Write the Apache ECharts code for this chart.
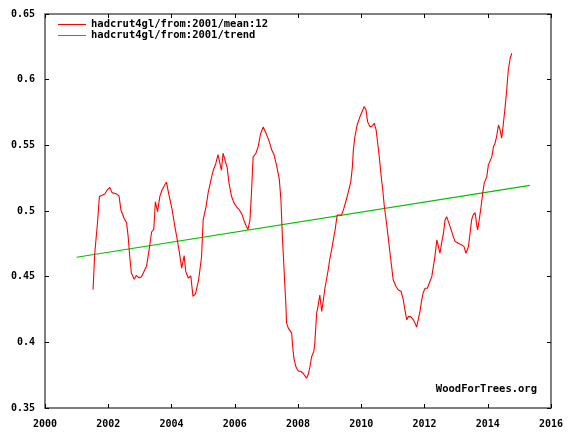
<!DOCTYPE html>
<html>
<head>
<meta charset="utf-8">
<script src="https://cdn.jsdelivr.net/npm/echarts@6/dist/echarts.min.js"></script>
<style>
html,body{margin:0;padding:0;background:#fff;}
#chart{width:573px;height:438px;}
</style>
</head>
<body>
<div id="chart"></div>
<script>
var meanName = 'hadcrut4gl/from:2001/mean:12';
var trendName = 'hadcrut4gl/from:2001/trend';
var credit = 'WoodForTrees.org';

var meanYears = [
2001.52,2001.57,2001.66,2001.72,2001.78,2001.89,2001.97,2002.05,2002.12,2002.26,2002.34,2002.40,2002.50,2002.58,2002.63,2002.68,2002.73,2002.82,2002.89,2002.97,
2003.05,2003.10,2003.21,2003.29,2003.37,2003.44,2003.49,2003.56,2003.63,2003.70,2003.79,2003.84,2003.91,2004.02,2004.10,2004.19,2004.26,2004.32,2004.40,2004.45,
2004.53,2004.61,2004.68,2004.76,2004.86,2004.95,2005.00,2005.09,2005.16,2005.27,2005.32,2005.40,2005.47,2005.53,2005.58,2005.63,2005.69,2005.76,2005.82,2005.90,
2005.98,2006.06,2006.14,2006.22,2006.29,2006.37,2006.42,2006.48,2006.53,2006.58,2006.67,2006.74,2006.82,2006.90,2006.95,2007.01,2007.09,2007.17,2007.24,2007.32,
2007.41,2007.46,2007.51,2007.54,2007.58,2007.61,2007.64,2007.69,2007.74,2007.80,2007.83,2007.87,2007.93,2008.01,2008.08,2008.16,2008.22,2008.27,2008.32,2008.38,
2008.43,2008.50,2008.53,2008.57,2008.59,2008.64,2008.69,2008.75,2008.80,2008.85,2008.91,2008.96,2009.01,2009.06,2009.11,2009.17,2009.24,2009.30,2009.38,2009.45,
2009.54,2009.62,2009.67,2009.72,2009.75,2009.80,2009.87,2009.96,2010.03,2010.09,2010.15,2010.20,2010.28,2010.35,2010.41,2010.47,2010.52,2010.57,2010.62,2010.68,
2010.73,2010.80,2010.85,2010.91,2010.96,2011.01,2011.10,2011.17,2011.26,2011.33,2011.38,2011.44,2011.49,2011.56,2011.65,2011.70,2011.75,2011.80,2011.86,2011.91,
2011.96,2012.02,2012.09,2012.15,2012.23,2012.28,2012.33,2012.39,2012.44,2012.49,2012.54,2012.60,2012.65,2012.70,2012.75,2012.81,2012.86,2012.91,2012.97,2013.02,
2013.10,2013.18,2013.25,2013.31,2013.39,2013.44,2013.49,2013.54,2013.60,2013.65,2013.68,2013.73,2013.79,2013.84,2013.89,2013.97,2014.02,2014.07,2014.13,2014.18,
2014.23,2014.28,2014.34,2014.39,2014.44,2014.49,2014.55,2014.60,2014.65,2014.71,2014.76
];
var meanValues = [
0.440,0.467,0.491,0.511,0.5115,0.513,0.516,0.518,0.514,0.513,0.5115,0.501,0.4945,0.491,0.4805,0.465,0.453,0.448,0.451,0.449,
0.450,0.449,0.458,0.470,0.484,0.486,0.507,0.4995,0.511,0.516,0.520,0.522,0.5135,0.501,0.489,0.477,0.467,0.4565,0.466,0.454,
0.449,0.4505,0.435,0.437,0.448,0.465,0.493,0.503,0.514,0.526,0.531,0.536,0.543,0.544,0.531,0.544,0.543,0.533,0.521,0.511,
0.506,0.503,0.501,0.498,0.493,0.488,0.486,0.493,0.514,0.541,0.544,0.549,0.559,0.564,0.565,0.558,0.553,0.5465,0.543,0.535,
0.524,0.5085,0.478,0.465,0.445,0.432,0.4146,0.411,0.412,0.407,0.397,0.388,0.3816,0.378,0.378,0.3765,0.3753,0.3727,0.3753,0.3816,
0.389,0.393,0.399,0.4146,0.422,0.4285,0.436,0.4235,0.432,0.441,0.449,0.456,0.464,0.470,0.477,0.485,0.497,0.4957,0.497,0.502,
0.5097,0.5174,0.5224,0.5338,0.5465,0.5567,0.5655,0.5719,0.5757,0.5795,0.577,0.568,0.564,0.5648,0.5668,0.5617,0.5516,0.5414,0.5287,0.516,
0.5034,0.4907,0.4805,0.4678,0.4577,0.4476,0.4425,0.440,0.4387,0.4323,0.4247,0.4171,0.4196,0.4196,0.4171,0.4146,0.4116,0.4171,0.424,0.432,
0.438,0.4412,0.4412,0.445,0.450,0.4577,0.4653,0.478,0.4729,0.4678,0.4755,0.4831,0.4932,0.4957,0.4957,0.4881,0.4843,0.4805,0.4767,0.4755,
0.475,0.4742,0.4729,0.4678,0.4729,0.4831,0.4932,0.497,0.4988,0.4894,0.4856,0.4932,0.5034,0.5136,0.5212,0.5262,0.5351,0.5364,0.5414,0.549,
0.5516,0.5567,0.5655,0.5617,0.5554,0.5655,0.5795,0.5922,0.6074,0.6163,0.6201
];
var trendYears = [2001.0, 2015.33];
var trendValues = [0.4648, 0.5195];

var xTickLabels = [2000, 2002, 2004, 2006, 2008, 2010, 2012, 2014, 2016];
var yTickLabels = [0.35, 0.4, 0.45, 0.5, 0.55, 0.6, 0.65];

function pairs(xs, ys) {
  var out = [];
  for (var i = 0; i < xs.length && i < ys.length; i++) out.push([xs[i], ys[i]]);
  return out;
}

var FONT = 'DejaVu Sans Mono';
var labelStyle = {fontFamily: FONT, fontWeight: 'bold', fontSize: 10, color: '#000'};

var xMin = xTickLabels[0], xMax = xTickLabels[xTickLabels.length - 1];
var yMin = yTickLabels[0], yMax = yTickLabels[yTickLabels.length - 1];

function xAxisDef(pos, showLabels) {
  return {
    type: 'value', position: pos, min: xMin, max: xMax, interval: 2,
    axisLine: {show: false},
    axisTick: {show: true, inside: true, length: 4, lineStyle: {color: '#000', width: 1}},
    axisLabel: Object.assign({show: showLabels, margin: 11, formatter: function (v) { return String(v); }}, labelStyle),
    splitLine: {show: false}
  };
}
function yAxisDef(pos, showLabels) {
  return {
    type: 'value', position: pos, min: yMin, max: yMax, interval: 0.05,
    axisLine: {show: false},
    axisTick: {show: true, inside: true, length: 4, lineStyle: {color: '#000', width: 1}},
    axisLabel: Object.assign({show: showLabels, margin: 10}, labelStyle),
    splitLine: {show: false}
  };
}

var chart = echarts.init(document.getElementById('chart'), null, {renderer: 'canvas'});
chart.setOption({
  animation: false,
  backgroundColor: '#fff',
  grid: {left: 45, right: 22, top: 14, bottom: 30, show: true, borderColor: '#555', borderWidth: 1.5, containLabel: false},
  xAxis: [xAxisDef('bottom', true), xAxisDef('top', false)],
  yAxis: [yAxisDef('left', true), yAxisDef('right', false)],
  legend: {
    orient: 'vertical', left: 53, top: 17, padding: [2, 5, 2, 5],
    icon: 'rect', itemWidth: 28, itemHeight: 1, itemGap: 0,
    textStyle: Object.assign({}, labelStyle, {fontSize: 10.5, lineHeight: 11}),
    data: [meanName, trendName]
  },
  graphic: [{
    type: 'text', right: 36, top: 384,
    style: {text: credit, font: 'bold 10.5px "DejaVu Sans Mono"', fill: '#000'}
  }],
  series: [
    {name: meanName, type: 'line', data: pairs(meanYears, meanValues), showSymbol: false, symbol: 'none',
     color: '#ff0000', lineStyle: {color: '#ff0000', width: 1.1}, z: 3},
    {name: trendName, type: 'line', data: pairs(trendYears, trendValues), showSymbol: false, symbol: 'none',
     color: '#00c000', lineStyle: {color: '#00c000', width: 1.1}, z: 2}
  ]
});
</script>
</body>
</html>
